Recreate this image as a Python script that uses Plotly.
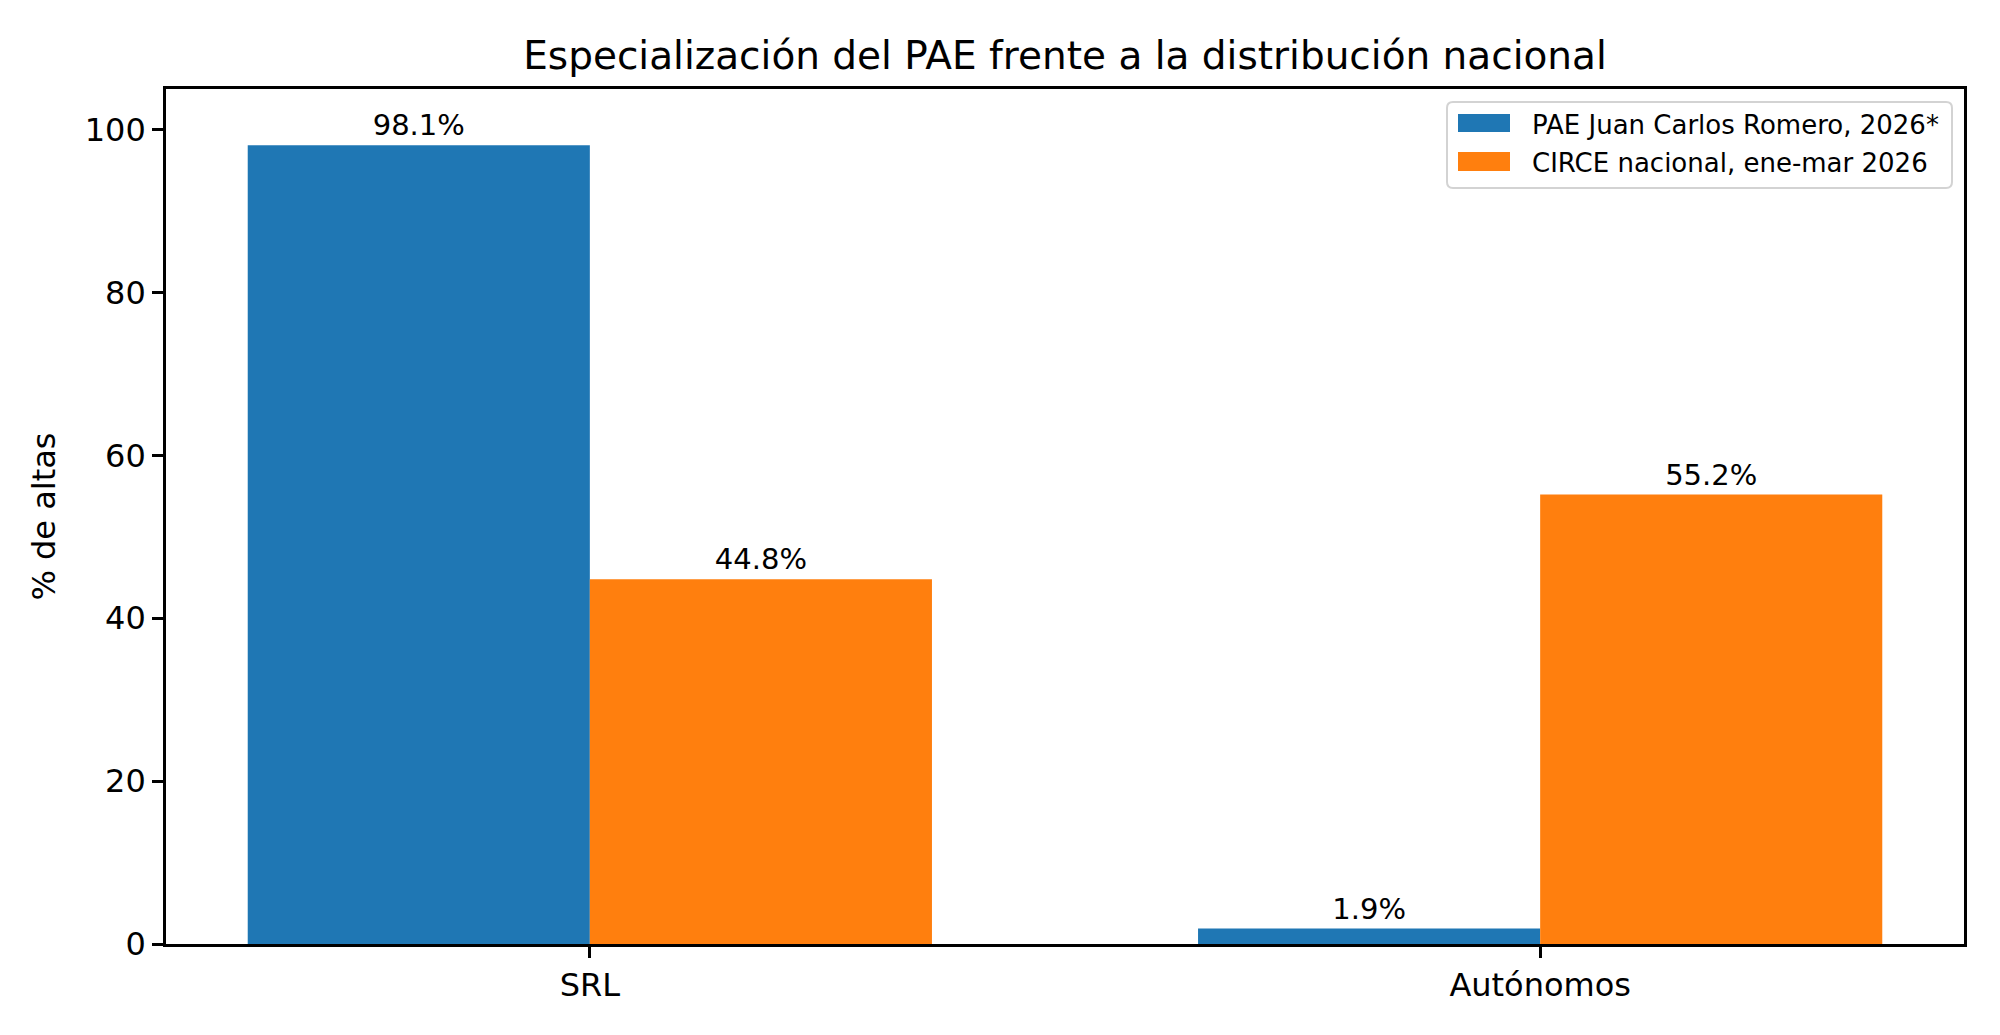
import plotly.graph_objects as go

categories = ["SRL", "Autónomos"]
pae_values = [98.1, 1.9]
circe_values = [44.8, 55.2]
series_names = ["PAE Juan Carlos Romero, 2026*", "CIRCE nacional, ene-mar 2026"]
series_colors = ["#1f77b4", "#ff7f0e"]
y_ticks = [0, 20, 40, 60, 80, 100]

FONT = "DejaVu Sans"
W, H = 2000, 1035
ML, MR, MT, MB = 166, 36, 89, 91
PW, PH = W - ML - MR, H - MT - MB


def px(x):
    return (x - ML) / PW


def py(y):
    return (H - MB - y) / PH


fig = go.Figure()
for name, vals, col in zip(series_names, [pae_values, circe_values], series_colors):
    fig.add_trace(go.Bar(
        x=categories, y=vals, name=name,
        marker=dict(color=col, line=dict(width=0)),
        text=[f"{v:.1f}%" for v in vals], textposition="outside",
        textfont=dict(family=FONT, size=29, color="black"), cliponaxis=False,
        showlegend=False,
    ))

# manual legend (matplotlib style)
shapes = []
annotations = []
bx0, bx1, by0, by1, r = 1447, 1952, 102, 188, 6
path = (
    f"M {px(bx0 + r)},{py(by0)} L {px(bx1 - r)},{py(by0)} "
    f"Q {px(bx1)},{py(by0)} {px(bx1)},{py(by0 + r)} "
    f"L {px(bx1)},{py(by1 - r)} Q {px(bx1)},{py(by1)} {px(bx1 - r)},{py(by1)} "
    f"L {px(bx0 + r)},{py(by1)} Q {px(bx0)},{py(by1)} {px(bx0)},{py(by1 - r)} "
    f"L {px(bx0)},{py(by0 + r)} Q {px(bx0)},{py(by0)} {px(bx0 + r)},{py(by0)} Z"
)
shapes.append(dict(type="path", xref="paper", yref="paper", path=path,
                   fillcolor="rgba(255,255,255,0.8)", line=dict(color="#d3d3d3", width=2)))
rows = [(114, 132, 125), (152, 171, 163)]
for (y0, y1, yc), name, col in zip(rows, series_names, series_colors):
    shapes.append(dict(type="rect", xref="paper", yref="paper",
                       x0=px(1458), x1=px(1510), y0=py(y1), y1=py(y0),
                       fillcolor=col, line=dict(width=0)))
    annotations.append(dict(text=name, xref="paper", yref="paper", x=px(1530), y=py(yc),
                            xanchor="left", yanchor="middle", showarrow=False,
                            font=dict(family=FONT, size=26, color="black")))

fig.update_layout(
    width=W, height=H,
    margin=dict(l=ML, r=MR, t=MT, b=MB),
    paper_bgcolor="white", plot_bgcolor="white",
    font=dict(family=FONT, size=32, color="black"),
    barmode="group", bargap=0.28, bargroupgap=0,
    title=dict(text="Especialización del PAE frente a la distribución nacional",
               x=0.5, xref="paper", xanchor="center",
               y=1 - 55 / H, yref="container", yanchor="middle",
               font=dict(family=FONT, size=39, color="black")),
    showlegend=False,
    shapes=shapes,
    annotations=annotations,
)
fig.update_xaxes(
    type="category", range=[-0.446, 1.446],
    showline=True, linecolor="black", linewidth=2.6, mirror=True,
    ticks="outside", ticklen=11, tickwidth=2.6, tickcolor="black",
    showgrid=False, zeroline=False,
    tickfont=dict(family=FONT, size=32, color="black"),
)
fig.update_yaxes(
    range=[0, 105], tickvals=y_ticks, ticktext=[str(t) for t in y_ticks],
    showline=True, linecolor="black", linewidth=2.6, mirror=True,
    ticks="outside", ticklen=11, tickwidth=2.6, tickcolor="black",
    showgrid=False, zeroline=False,
    tickfont=dict(family=FONT, size=32, color="black"),
    title=dict(text="% de altas", font=dict(family=FONT, size=32, color="black"), standoff=20),
)

fig.write_html("out.html")
